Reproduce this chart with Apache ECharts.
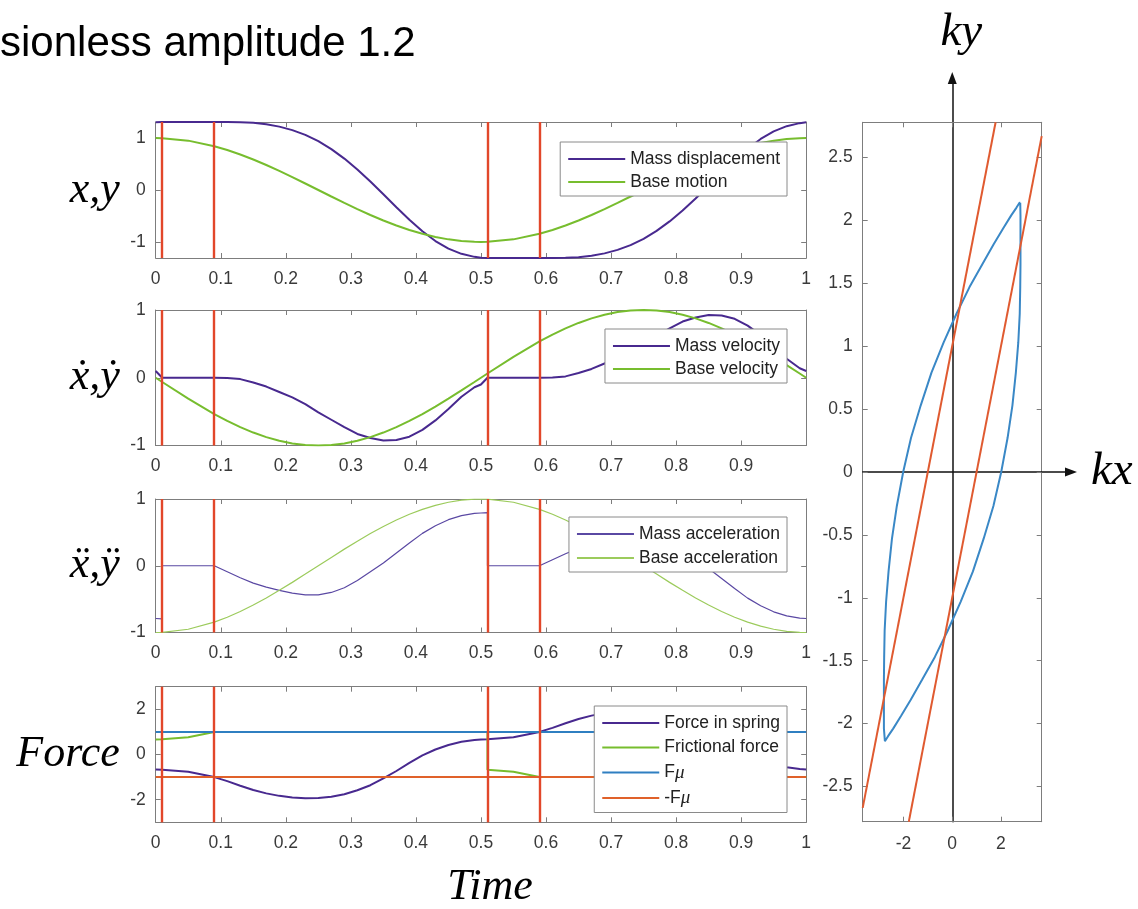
<!DOCTYPE html>
<html><head><meta charset="utf-8">
<script src="https://cdn.jsdelivr.net/npm/echarts@6/dist/echarts.min.js"></script>
<style>html,body{margin:0;padding:0;background:#fff}#c{width:1138px;height:909px}</style>
</head><body><div id="c"></div>
<script>
// ---------------- data ----------------
const timeGrid = [0,0.01,0.01,0.05,0.09,0.11,0.13,0.15,0.17,0.19,0.21,0.23,0.25,0.27,0.29,0.31,0.33,0.35,0.37,0.39,0.41,0.43,0.45,0.47,0.49,0.5,0.51,0.51,0.55,0.59,0.61,0.63,0.65,0.67,0.69,0.71,0.73,0.75,0.77,0.79,0.81,0.83,0.85,0.87,0.89,0.91,0.93,0.95,0.97,0.99,1];
const switchTimes = [0.01, 0.09, 0.51, 0.59];

const massDisplacement = [1.305,1.31,1.31,1.31,1.31,1.309,1.306,1.294,1.267,1.221,1.153,1.062,0.94,0.788,0.605,0.395,0.163,-0.082,-0.331,-0.573,-0.794,-0.983,-1.13,-1.23,-1.288,-1.305,-1.31,-1.31,-1.31,-1.31,-1.309,-1.306,-1.294,-1.267,-1.221,-1.153,-1.062,-0.94,-0.788,-0.605,-0.395,-0.163,0.082,0.331,0.573,0.794,0.983,1.13,1.23,1.288,1.305];
const baseMotion = [1,0.998,0.998,0.951,0.844,0.771,0.685,0.588,0.482,0.368,0.249,0.125,0,-0.125,-0.249,-0.368,-0.482,-0.588,-0.685,-0.771,-0.844,-0.905,-0.951,-0.982,-0.998,-1,-0.998,-0.998,-0.951,-0.844,-0.771,-0.685,-0.588,-0.482,-0.368,-0.249,-0.125,0,0.125,0.249,0.368,0.482,0.588,0.685,0.771,0.844,0.905,0.951,0.982,0.998,1];

const massVelocity = [0.1,0,0,0,0,-0.005,-0.02,-0.07,-0.13,-0.21,-0.29,-0.39,-0.51,-0.62,-0.73,-0.83,-0.89,-0.925,-0.92,-0.87,-0.77,-0.63,-0.46,-0.28,-0.14,-0.1,0,0,0,0,0.005,0.02,0.07,0.13,0.21,0.29,0.39,0.51,0.62,0.73,0.83,0.89,0.925,0.92,0.87,0.77,0.63,0.46,0.28,0.14,0.1];
const baseVelocity = [0,-0.063,-0.063,-0.309,-0.536,-0.637,-0.729,-0.809,-0.876,-0.93,-0.969,-0.992,-1,-0.992,-0.969,-0.93,-0.876,-0.809,-0.729,-0.637,-0.536,-0.426,-0.309,-0.187,-0.063,0,0.063,0.063,0.309,0.536,0.637,0.729,0.809,0.876,0.93,0.969,0.992,1,0.992,0.969,0.93,0.876,0.809,0.729,0.637,0.536,0.426,0.309,0.187,0.063,0];

const massAcceleration = [-0.79,-0.795,0,0,0,-0.09,-0.18,-0.26,-0.32,-0.37,-0.41,-0.435,-0.435,-0.4,-0.33,-0.22,-0.09,0.04,0.19,0.34,0.485,0.6,0.69,0.75,0.785,0.79,0.795,0,0,0,0.09,0.18,0.26,0.32,0.37,0.41,0.435,0.435,0.4,0.33,0.22,0.09,-0.04,-0.19,-0.34,-0.485,-0.6,-0.69,-0.75,-0.785,-0.79];
const baseAcceleration = [-1,-0.998,-0.998,-0.951,-0.844,-0.771,-0.685,-0.588,-0.482,-0.368,-0.249,-0.125,0,0.125,0.249,0.368,0.482,0.588,0.685,0.771,0.844,0.905,0.951,0.982,0.998,1,0.998,0.998,0.951,0.844,0.771,0.685,0.588,0.482,0.368,0.249,0.125,0,-0.125,-0.249,-0.368,-0.482,-0.588,-0.685,-0.771,-0.844,-0.905,-0.951,-0.982,-0.998,-1];

const springForce = [-0.66,-0.67,-0.67,-0.76,-1,-1.18,-1.38,-1.57,-1.72,-1.83,-1.9,-1.935,-1.93,-1.87,-1.76,-1.58,-1.36,-1.06,-0.73,-0.37,-0.04,0.22,0.42,0.56,0.64,0.66,0.67,0.67,0.76,1,1.18,1.38,1.57,1.72,1.83,1.9,1.935,1.93,1.87,1.76,1.58,1.36,1.06,0.73,0.37,0.04,-0.22,-0.42,-0.56,-0.64,-0.66];
const frictionalForce = [0.66,0.67,0.67,0.76,1,1,1,1,1,1,1,1,1,1,1,1,1,1,1,1,1,1,1,1,1,1,1,-0.67,-0.76,-1,-1,-1,-1,-1,-1,-1,-1,-1,-1,-1,-1,-1,-1,-1,-1,-1,-1,-1,-1,-1,-1];
const muTime = [0, 1];
const fMuLevel = [1, 1];
const negFMuLevel = [-1, -1];

// hysteresis loop (kx, ky)
const loopKx = [2.79,2.8,2.8,2.8,2.8,2.8,2.79,2.77,2.71,2.61,2.47,2.27,2.01,1.69,1.29,0.85,0.35,-0.18,-0.71,-1.23,-1.7,-2.1,-2.42,-2.63,-2.76,-2.79,-2.8,-2.8,-2.8,-2.8,-2.8,-2.79,-2.77,-2.71,-2.61,-2.47,-2.27,-2.01,-1.69,-1.29,-0.85,-0.35,0.18,0.71,1.23,1.7,2.1,2.42,2.63,2.76,2.79];
const loopKy = [2.14,2.14,2.14,2.04,1.81,1.65,1.47,1.26,1.03,0.79,0.53,0.27,0,-0.27,-0.53,-0.79,-1.03,-1.26,-1.47,-1.65,-1.81,-1.94,-2.04,-2.1,-2.14,-2.14,-2.14,-2.14,-2.04,-1.81,-1.65,-1.47,-1.26,-1.03,-0.79,-0.53,-0.27,0,0.27,0.53,0.79,1.03,1.26,1.47,1.65,1.81,1.94,2.04,2.1,2.14,2.14];
const upperLineKx = [-3.67, 1.78];
const upperLineKy = [-2.67, 2.78];
const lowerLineKx = [-1.78, 3.67];
const lowerLineKy = [-2.78, 2.67];

const timeTicks = [0,0.1,0.2,0.3,0.4,0.5,0.6,0.7,0.8,0.9,1];
const yTicksUnit = [-1, 0, 1];
const yTicksForce = [-2, 0, 2];
const kxTicks = [-2, 0, 2];
const kyTicks = [-2.5,-2,-1.5,-1,-0.5,0,0.5,1,1.5,2,2.5];

// ---------------- styling ----------------
const FONT = '"Liberation Sans", Arial, Helvetica, sans-serif';
const SERIF = '"Liberation Serif", "Times New Roman", "DejaVu Serif", serif';
const AXIS_COLOR = '#7d7d7d';
const LABEL_COLOR = '#3a3a3a';
const PURPLE = '#48298f';
const GREEN = '#77bd2e';
const PURPLE_THIN = '#5a48a3';
const GREEN_THIN = '#9ccb5c';
const BLUE = '#2f7fc1';
const ORANGE = '#e0612a';
const RED = '#e2472a';
const LOOP_BLUE = '#3a88c6';
const LINE_RED = '#e05a30';

const pairs = (xs, ys) => xs.map((x, i) => [x, ys[i]]);

const leftBoxes = [
  {top: 122, height: 136},
  {top: 310, height: 135.5},
  {top: 499, height: 133.5},
  {top: 686.7, height: 135.6}
];
const grids = leftBoxes.map(b => ({left: 155.7, width: 650.5, top: b.top, height: b.height, outerBoundsMode: 'none', containLabel: false}));
grids.push({left: 862.7, width: 179, top: 122.3, height: 699.4, outerBoundsMode: 'none', containLabel: false});
grids.push({left: 862.7, width: 208.3, top: 78, height: 743.7, outerBoundsMode: 'none', containLabel: false});

const frameLine = {show: true, onZero: false, lineStyle: {color: AXIS_COLOR, width: 1}};
const tickStyle = (vals) => {
  const t = {show: true, inside: true, length: 5, lineStyle: {color: AXIS_COLOR, width: 1}};
  if (vals) t.customValues = vals;
  return t;
};
const labelStyle = (extra) => Object.assign({show: true, color: LABEL_COLOR, fontSize: 17.5, fontFamily: FONT}, extra || {});
const nameStyle = {fontFamily: SERIF, fontStyle: 'italic', fontSize: 44, color: '#000'};
const arrowNameStyle = {fontFamily: SERIF, fontStyle: 'italic', fontSize: 47, color: '#000'};

const xAxes = [], yAxes = [];
const yNames = ['x,y', 'ẋ,ẏ', 'ẍ,ÿ', 'Force'];
const yRanges = [[-1.31, 1.31], [-1, 1], [-1, 1], [-3, 3]];
const yTickVals = [yTicksUnit, yTicksUnit, yTicksUnit, yTicksForce];
for (let i = 0; i < 4; i++) {
  const bottom = {
    type: 'value', gridIndex: i, position: 'bottom', min: 0, max: 1,
    axisLine: frameLine, axisTick: tickStyle(timeTicks), splitLine: {show: false},
    axisLabel: labelStyle({margin: 12, customValues: timeTicks,
      formatter: v => (i === 1 && v > 0.95) ? '' : String(Math.round(v * 10) / 10)})
  };
  if (i === 3) {
    bottom.name = 'Time'; bottom.nameLocation = 'middle'; bottom.nameGap = 43;
    bottom.nameTextStyle = Object.assign({padding: [0, 0, 0, 18]}, nameStyle);
    bottom.nameMoveOverlap = false;
  }
  xAxes.push(bottom);
  xAxes.push({type: 'value', gridIndex: i, position: 'top', min: 0, max: 1,
    axisLine: frameLine, axisTick: tickStyle(timeTicks), axisLabel: {show: false}, splitLine: {show: false}});
  yAxes.push({type: 'value', gridIndex: i, position: 'left', min: yRanges[i][0], max: yRanges[i][1],
    axisLine: frameLine, axisTick: tickStyle(yTickVals[i]), splitLine: {show: false},
    axisLabel: labelStyle({margin: 10, customValues: yTickVals[i], formatter: v => String(v)}),
    name: yNames[i], nameLocation: 'middle', nameRotate: 0, nameGap: 36, nameMoveOverlap: false,
    nameTextStyle: Object.assign({align: 'right', verticalAlign: 'middle'}, nameStyle)});
  yAxes.push({type: 'value', gridIndex: i, position: 'right', min: yRanges[i][0], max: yRanges[i][1],
    axisLine: frameLine, axisTick: tickStyle(yTickVals[i]), axisLabel: {show: false}, splitLine: {show: false}});
}
// right panel box
xAxes.push({type: 'value', gridIndex: 4, position: 'bottom', min: -3.67, max: 3.67,
  axisLine: frameLine, axisTick: tickStyle(kxTicks), splitLine: {show: false},
  axisLabel: labelStyle({margin: 13, customValues: kxTicks, formatter: v => String(v)})});
xAxes.push({type: 'value', gridIndex: 4, position: 'top', min: -3.67, max: 3.67,
  axisLine: frameLine, axisTick: tickStyle(kxTicks), axisLabel: {show: false}, splitLine: {show: false}});
yAxes.push({type: 'value', gridIndex: 4, position: 'left', min: -2.78, max: 2.78,
  axisLine: frameLine, axisTick: tickStyle(kyTicks), splitLine: {show: false},
  axisLabel: labelStyle({margin: 10, customValues: kyTicks, formatter: v => String(v)})});
yAxes.push({type: 'value', gridIndex: 4, position: 'right', min: -2.78, max: 2.78,
  axisLine: frameLine, axisTick: tickStyle(kyTicks), axisLabel: {show: false}, splitLine: {show: false}});
// arrow axes through the origin
const arrowLine = {show: true, onZero: true, symbol: ['none', 'triangle'], symbolSize: [9, 12],
  lineStyle: {color: '#111', width: 1.5}};
xAxes.push({type: 'value', gridIndex: 5, min: -3.67, max: 4.865, axisLine: arrowLine,
  axisTick: {show: false}, axisLabel: {show: false}, splitLine: {show: false},
  name: 'kx', nameLocation: 'end', nameGap: 20, nameMoveOverlap: false, nameTextStyle: arrowNameStyle});
yAxes.push({type: 'value', gridIndex: 5, min: -2.78, max: 3.132, axisLine: arrowLine,
  axisTick: {show: false}, axisLabel: {show: false}, splitLine: {show: false},
  name: 'ky', nameLocation: 'end', nameGap: 22, nameMoveOverlap: false,
  nameTextStyle: Object.assign({padding: [0, 0, 0, 18]}, arrowNameStyle)});

function lineSeries(name, panel, xs, ys, color, width) {
  return {name, type: 'line', xAxisIndex: panel * 2, yAxisIndex: panel * 2,
    data: pairs(xs, ys), symbol: 'none', showSymbol: false, animation: false, clip: true,
    lineStyle: {color, width}, itemStyle: {color}, z: 2};
}
function switchSeries(panel) {
  return {name: 'switch' + panel, type: 'line', xAxisIndex: panel * 2, yAxisIndex: panel * 2,
    data: [], symbol: 'none', animation: false, z: 5,
    markLine: {silent: true, animation: false, symbol: ['none', 'none'], label: {show: false},
      lineStyle: {color: RED, width: 2.4, type: 'solid'},
      data: switchTimes.map(t => ({xAxis: t}))}};
}

const series = [
  lineSeries('Mass displacement', 0, timeGrid, massDisplacement, PURPLE, 2),
  lineSeries('Base motion', 0, timeGrid, baseMotion, GREEN, 2),
  switchSeries(0),
  lineSeries('Mass velocity', 1, timeGrid, massVelocity, PURPLE, 2),
  lineSeries('Base velocity', 1, timeGrid, baseVelocity, GREEN, 2),
  switchSeries(1),
  lineSeries('Mass acceleration', 2, timeGrid, massAcceleration, PURPLE_THIN, 1.2),
  lineSeries('Base acceleration', 2, timeGrid, baseAcceleration, GREEN_THIN, 1.2),
  switchSeries(2),
  lineSeries('Force in spring', 3, timeGrid, springForce, PURPLE, 2),
  lineSeries('Frictional force', 3, timeGrid, frictionalForce, GREEN, 2),
  lineSeries('Fμ', 3, muTime, fMuLevel, BLUE, 2),
  lineSeries('-Fμ', 3, muTime, negFMuLevel, ORANGE, 2),
  switchSeries(3),
  lineSeries('loop', 4, loopKx, loopKy, LOOP_BLUE, 2),
  lineSeries('upper', 4, upperLineKx, upperLineKy, LINE_RED, 2),
  lineSeries('lower', 4, lowerLineKx, lowerLineKy, LINE_RED, 2)
];

const legendCommon = {
  orient: 'vertical', right: 351, itemWidth: 57, itemHeight: 14,
  borderColor: '#8a8a8a', borderWidth: 1, backgroundColor: '#fff',
  selectedMode: false, align: 'left', itemStyle: {opacity: 0},
  textStyle: {fontSize: 17.5, fontFamily: FONT, color: '#222',
    rich: {mu: {fontFamily: SERIF, fontStyle: 'italic', fontSize: 19, color: '#222'}}},
  formatter: n => n.replace('μ', '{mu|μ}')
};
const legends = [
  Object.assign({top: 142, itemGap: 5, padding: [8, 7, 5, 7], data: ['Mass displacement', 'Base motion']}, legendCommon),
  Object.assign({top: 329, itemGap: 5, padding: [8, 7, 5, 7], data: ['Mass velocity', 'Base velocity']}, legendCommon),
  Object.assign({top: 517, itemGap: 6, padding: [8, 7, 5, 7], data: ['Mass acceleration', 'Base acceleration']}, legendCommon),
  Object.assign({top: 706, itemGap: 6.5, padding: [8, 7, 5, 7], data: ['Force in spring', 'Frictional force', 'Fμ', '-Fμ']}, legendCommon)
];

const chart = echarts.init(document.getElementById('c'), null, {renderer: 'canvas'});
chart.setOption({
  backgroundColor: '#fff',
  animation: false,
  title: {text: 'sionless amplitude 1.2', left: 0, top: 23, padding: 0,
    textStyle: {fontSize: 42, fontWeight: 'normal', fontFamily: FONT, color: '#000'}},
  grid: grids,
  xAxis: xAxes,
  yAxis: yAxes,
  legend: legends,
  series
});
</script></body></html>
